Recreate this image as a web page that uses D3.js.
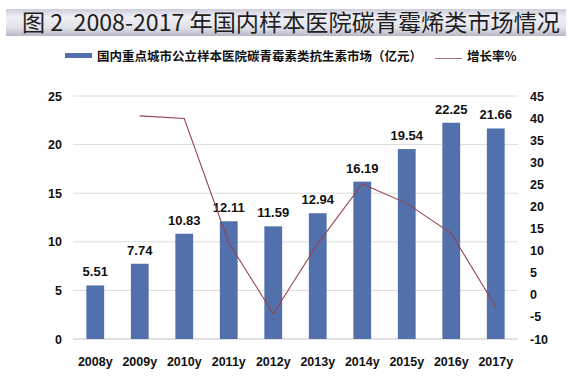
<!DOCTYPE html>
<html>
<head>
<meta charset="utf-8">
<title>碳青霉烯类市场</title>
<script src="https://d3js.org/d3.v7.min.js"></script>
<style>
  body { margin: 0; background: #fff; }
  svg text { font-family: "Liberation Sans", Arial, sans-serif; }
</style>
</head>
<body>
<svg width="572" height="387"></svg>
<script>
// data
var years = ["2008y", "2009y", "2010y", "2011y", "2012y", "2013y", "2014y", "2015y", "2016y", "2017y"];
var market = [5.51, 7.74, 10.83, 12.11, 11.59, 12.94, 16.19, 19.54, 22.25, 21.66];
var growth = [null, 40.5, 39.9, 11.8, -4.3, 11.6, 25.1, 20.7, 13.9, -2.7];
var leftTicks = [0, 5, 10, 15, 20, 25];
var rightTicks = [-10, -5, 0, 5, 10, 15, 20, 25, 30, 35, 40, 45];

var svg = d3.select("svg");
var cjk = '"Noto Sans CJK SC", "Noto Sans", sans-serif';

// title band
var grad = svg.append("defs").append("linearGradient")
  .attr("id", "band").attr("x1", 0).attr("y1", 0).attr("x2", 0).attr("y2", 1);
grad.append("stop").attr("offset", "0%").attr("stop-color", "#cdcddb");
grad.append("stop").attr("offset", "30%").attr("stop-color", "#efeff5");
grad.append("stop").attr("offset", "70%").attr("stop-color", "#e2e2ea");
grad.append("stop").attr("offset", "100%").attr("stop-color", "#b6b6c6");
svg.append("rect").attr("x", 6).attr("y", 9).attr("width", 560).attr("height", 27)
  .attr("fill", "url(#band)");
svg.append("text").attr("x", 22).attr("y", 31)
  .style("font-family", cjk).style("font-size", "23px").attr("fill", "#1e1e1e")
  .style("white-space", "pre")
  .attr("textLength", 538).attr("lengthAdjust", "spacingAndGlyphs")
  .text("图 2  2008-2017 年国内样本医院碳青霉烯类市场情况");

// scales
var x = d3.scaleBand().domain(years).range([73, 518]).paddingInner(0.6).paddingOuter(0.3);
var yL = d3.scaleLinear().domain([0, 25]).range([339, 96]);
var yR = d3.scaleLinear().domain([-10, 45]).range([339, 96]);

// gridlines
svg.append("g").selectAll("line").data(leftTicks).enter().append("line")
  .attr("x1", 73).attr("x2", 518)
  .attr("y1", function(d) { return yL(d); }).attr("y2", function(d) { return yL(d); })
  .attr("stroke", function(d) { return d == 0 ? "#c4c4c4" : "#dcdcdc"; })
  .attr("stroke-width", 1);

// axes
var plain = function(d) { return String(d); };
var left = svg.append("g").attr("transform", "translate(73,0)")
  .call(d3.axisLeft(yL).tickValues(leftTicks).tickFormat(plain).tickSize(0).tickPadding(11));
var right = svg.append("g").attr("transform", "translate(518,0)")
  .call(d3.axisRight(yR).tickValues(rightTicks).tickFormat(plain).tickSize(0).tickPadding(12));
var bottom = svg.append("g").attr("transform", "translate(0,339)")
  .call(d3.axisBottom(x).tickSize(0).tickPadding(18));
[left, right, bottom].forEach(function(g) {
  g.select(".domain").remove();
  g.selectAll("text").style("font-family", '"Liberation Sans", Arial, sans-serif')
    .style("font-size", "12.5px").style("font-weight", "bold").attr("fill", "#111");
});

// bars
svg.append("g").selectAll("rect").data(market).enter().append("rect")
  .attr("x", function(d, i) { return x(years[i]); })
  .attr("y", function(d) { return yL(d); })
  .attr("width", x.bandwidth())
  .attr("height", function(d) { return yL(0) - yL(d); })
  .attr("fill", "#5170ac");

svg.append("g").selectAll("text").data(market).enter().append("text")
  .attr("x", function(d, i) { return x(years[i]) + x.bandwidth() / 2; })
  .attr("y", function(d) { return yL(d) - 9; })
  .attr("text-anchor", "middle")
  .style("font-size", "13px").style("font-weight", "bold").attr("fill", "#111")
  .text(function(d) { return d.toFixed(2); });

// growth line
var line = d3.line()
  .defined(function(d) { return d != null; })
  .x(function(d, i) { return x(years[i]) + x.bandwidth() / 2; })
  .y(function(d) { return yR(d); });
svg.append("path").datum(growth).attr("d", line)
  .attr("fill", "none").attr("stroke", "#944552").attr("stroke-width", 1.1);

// legend
svg.append("rect").attr("x", 65).attr("y", 53).attr("width", 27).attr("height", 5).attr("fill", "#5170ac");
svg.append("text").attr("x", 97).attr("y", 61)
  .style("font-family", cjk).style("font-size", "12.5px").style("font-weight", "bold").attr("fill", "#111")
  .text("国内重点城市公立样本医院碳青霉素类抗生素市场（亿元）");
svg.append("line").attr("x1", 435).attr("x2", 462).attr("y1", 58.5).attr("y2", 58.5)
  .attr("stroke", "#a07078").attr("stroke-width", 1);
svg.append("text").attr("x", 467).attr("y", 61)
  .style("font-family", cjk).style("font-size", "12.5px").style("font-weight", "bold").attr("fill", "#111")
  .text("增长率%");
</script>
</body>
</html>
